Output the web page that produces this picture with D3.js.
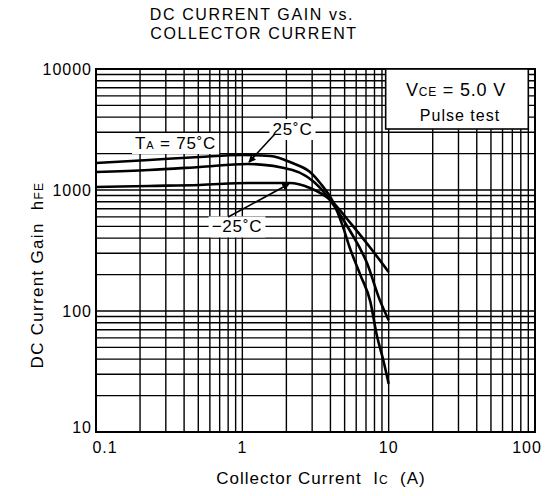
<!DOCTYPE html>
<html>
<head>
<meta charset="utf-8">
<script src="https://cdn.jsdelivr.net/npm/d3@7"></script>
<style>
  body { margin: 0; background: #fff; }
  text { font-family: "Liberation Sans", Arial, Helvetica, sans-serif; fill: #000; }
</style>
</head>
<body>
<div id="chart"></div>
<script>
// axis ticks
var xTicks = [0.1, 1, 10, 100]
var yTicks = [10, 100, 1000, 10000]

// hFE curves: collector current (A) and gain
var ic75 = [0.1, 0.23, 0.51, 1.0, 1.55, 2.2, 2.9, 3.4, 4.2, 4.9, 5.4, 6.4, 7.5, 8.3, 9.2, 10]
var hfe75 = [1670, 1770, 1875, 1946, 1910, 1670, 1410, 1143, 782, 486, 338, 199, 119, 63, 39, 25]

var ic25 = [0.1, 0.23, 0.51, 1.08, 2.2, 3.4, 4.2, 5.4, 7.1, 8.7, 10]
var hfe25 = [1410, 1462, 1549, 1640, 1462, 1040, 752, 467, 250, 123, 84]

var icM25 = [0.1, 0.23, 0.51, 1.1, 2.1, 2.9, 4.0, 5.4, 7.7, 10]
var hfeM25 = [1059, 1080, 1100, 1143, 1143, 1040, 826, 545, 319, 210]

// annotation anchors, in data units
var labels = [
  {ic: 0.35, hfe: 2445, main: "T", sub: "A", rest: " = 75˚C"},
  {ic: 2.2, hfe: 3190, main: "25˚C", sub: "", rest: ""},
  {ic: 0.92, hfe: 500, main: "−25˚C", sub: "", rest: ""}
]
var arrows = [
  {from: [1.67, 2900], to: [1.11, 1700]},
  {from: [0.80, 598], to: [2.08, 1120]}
]

var W = 547, H = 496

var x = d3.scaleLog().domain([0.1, 100]).range([96, 535])
var y = d3.scaleLog().domain([10, 10000]).range([432, 69])

var svg = d3.select("#chart").append("svg")
  .attr("width", W)
  .attr("height", H)

svg.append("defs").append("marker")
  .attr("id", "head")
  .attr("viewBox", "0 0 10 10")
  .attr("refX", 9)
  .attr("refY", 5)
  .attr("markerWidth", 4.5)
  .attr("markerHeight", 4.5)
  .attr("orient", "auto")
  .append("path")
  .attr("d", "M0,0L10,5L0,10Z")
  .attr("fill", "#000")

// log grid, every 1..9 in each decade
var gridX = []
xTicks.slice(0, -1).forEach(d => { for (var k = 1; k < 10; k++) gridX.push(d * k) })
gridX.push(100)
var gridY = []
yTicks.slice(0, -1).forEach(d => { for (var k = 1; k < 10; k++) gridY.push(d * k) })
gridY.push(10000)

var grid = svg.append("g").attr("stroke", "#000").attr("stroke-width", 1.4)
grid.selectAll("line.v").data(gridX).enter().append("line")
  .attr("class", "v")
  .attr("x1", d => x(d)).attr("x2", d => x(d))
  .attr("y1", y(10)).attr("y2", y(10000))
grid.selectAll("line.h").data(gridY).enter().append("line")
  .attr("class", "h")
  .attr("y1", d => y(d)).attr("y2", d => y(d))
  .attr("x1", x(0.1)).attr("x2", x(100))

svg.append("rect")
  .attr("x", x(0.1)).attr("y", y(10000))
  .attr("width", x(100) - x(0.1)).attr("height", y(10) - y(10000))
  .attr("fill", "none").attr("stroke", "#000").attr("stroke-width", 2)

// curves
var line = d3.line()
  .x(d => x(d[0]))
  .y(d => y(d[1]))
  .curve(d3.curveMonotoneX)

var series = [
  d3.zip(ic75, hfe75),
  d3.zip(ic25, hfe25),
  d3.zip(icM25, hfeM25)
]
svg.append("g").selectAll("path").data(series).enter().append("path")
  .attr("d", line)
  .attr("fill", "none")
  .attr("stroke", "#000")
  .attr("stroke-width", 2.6)

// curve labels with white backing
var lab = svg.append("g")
labels.forEach(l => {
  var g = lab.append("g")
  var t = g.append("text")
    .attr("x", x(l.ic)).attr("y", y(l.hfe) + 6)
    .attr("text-anchor", "middle")
    .style("font-size", "17px")
    .style("letter-spacing", "0.8px")
    .style("white-space", "pre")
  t.append("tspan").text(l.main)
  if (l.sub) t.append("tspan").style("font-size", "11px").text(l.sub)
  if (l.rest) t.append("tspan").text(l.rest)
  var b = t.node().getBBox()
  g.insert("rect", "text")
    .attr("x", b.x - 3).attr("y", b.y - 1)
    .attr("width", b.width + 6).attr("height", b.height + 2)
    .attr("fill", "#fff")
})

svg.append("g").selectAll("line").data(arrows).enter().append("line")
  .attr("x1", d => x(d.from[0])).attr("y1", d => y(d.from[1]))
  .attr("x2", d => x(d.to[0])).attr("y2", d => y(d.to[1]))
  .attr("stroke", "#000").attr("stroke-width", 1.6)
  .attr("marker-end", "url(#head)")

// condition box
var box = svg.append("g")
box.append("rect")
  .attr("x", x(10) - 3).attr("y", y(10000))
  .attr("width", x(90) - x(10) + 3).attr("height", 60)
  .attr("fill", "#fff").attr("stroke", "#000").attr("stroke-width", 1.6)
var v = box.append("text")
  .attr("x", 456).attr("y", 96)
  .attr("text-anchor", "middle")
  .style("font-size", "18px")
  .style("letter-spacing", "0.8px")
  .style("white-space", "pre")
v.append("tspan").text("V")
v.append("tspan").style("font-size", "12px").text("CE")
v.append("tspan").text(" = 5.0 V")
box.append("text")
  .attr("x", 460).attr("y", 121)
  .attr("text-anchor", "middle")
  .style("font-size", "16px")
  .style("letter-spacing", "1px")
  .text("Pulse test")

// tick labels
svg.append("g").selectAll("text").data(yTicks).enter().append("text")
  .attr("x", 92).attr("y", (d, i) => y(d) + (i === 0 ? 1 : 6))
  .attr("text-anchor", "end")
  .style("font-size", "16px")
  .style("letter-spacing", "1px")
  .text(d => d)

svg.append("g").selectAll("text").data(xTicks).enter().append("text")
  .attr("x", (d, i) => x(d) + (i === 0 ? 9 : i === xTicks.length - 1 ? -8 : 0))
  .attr("y", 453)
  .attr("text-anchor", "middle")
  .style("font-size", "16px")
  .style("letter-spacing", "1px")
  .text(d => d)

// titles
svg.append("text").attr("x", 252).attr("y", 19.5)
  .attr("text-anchor", "middle").style("font-size", "16px")
  .style("letter-spacing", "1.6px")
  .text("DC CURRENT GAIN vs.")
svg.append("text").attr("x", 254).attr("y", 38.5)
  .attr("text-anchor", "middle").style("font-size", "16px")
  .style("letter-spacing", "1.6px")
  .text("COLLECTOR CURRENT")

var xl = svg.append("text").attr("x", 321).attr("y", 484)
  .attr("text-anchor", "middle").style("font-size", "17px")
  .style("letter-spacing", "1px")
  .style("white-space", "pre")
xl.append("tspan").text("Collector Current  I")
xl.append("tspan").style("font-size", "12px").text("C")
xl.append("tspan").text("  (A)")

var yl = svg.append("text")
  .attr("transform", "translate(43,275) rotate(-90)")
  .attr("text-anchor", "middle").style("font-size", "17px")
  .style("letter-spacing", "1.3px")
  .style("white-space", "pre")
yl.append("tspan").text("DC Current Gain  h")
yl.append("tspan").style("font-size", "12px").text("FE")
</script>
</body>
</html>
